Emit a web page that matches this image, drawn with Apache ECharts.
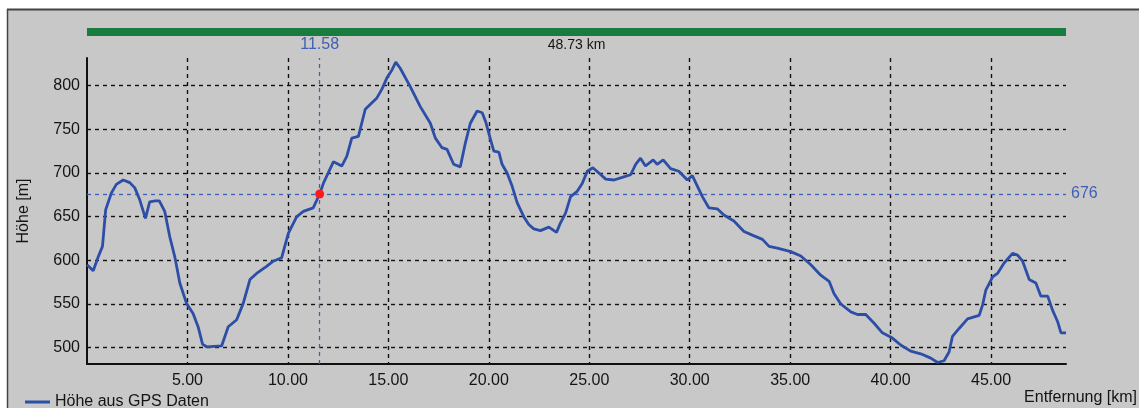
<!DOCTYPE html>
<html><head><meta charset="utf-8">
<script src="https://cdn.jsdelivr.net/npm/echarts@6/dist/echarts.min.js"></script>
<style>html,body{margin:0;padding:0;background:#fff}#c{width:1139px;height:408px}</style>
</head><body><div id="c"></div>
<script>
const distanceKm = [0,0.31,0.56,0.77,0.93,1.21,1.46,1.8,2.13,2.38,2.63,2.91,3.12,3.4,3.6,3.87,4.12,4.37,4.62,4.95,5.28,5.53,5.75,5.95,6.7,7.03,7.45,7.78,8.11,8.44,8.94,9.27,9.69,10.02,10.44,10.77,11.26,11.58,11.78,12.27,12.68,12.93,13.18,13.51,13.85,14.43,14.68,14.93,15.18,15.37,15.59,16.09,16.59,17.09,17.34,17.67,17.92,18.25,18.58,18.83,19.08,19.42,19.67,19.84,20.09,20.25,20.5,20.66,20.91,21.16,21.41,21.74,21.99,22.24,22.57,22.99,23.37,23.57,23.82,24.07,24.4,24.65,24.9,25.18,25.48,25.82,26.23,26.64,27.06,27.31,27.55,27.8,28.18,28.38,28.68,29.05,29.46,29.88,30.13,30.38,30.63,30.96,31.37,31.7,32.2,32.7,33.2,33.62,33.95,34.36,35.03,35.53,36.03,36.52,36.94,37.18,37.52,38.02,38.35,38.76,39.18,39.59,40.09,40.5,41.0,41.5,42.0,42.34,42.66,42.91,43.08,43.41,43.83,44.41,44.58,44.74,45.08,45.32,45.65,46.07,46.32,46.57,46.9,47.23,47.48,47.82,48.06,48.31,48.48,48.73];
const elevationM = [595,588,604,616,658,677,687,692,689,683,669,648,667,668,668,656,627,604,574,551,539,524,504,501,502,524,532,551,578,585,593,599,603,631,650,656,660,676,689,713,708,719,740,742,773,786,796,809,818,827,820,799,776,757,740,729,727,710,707,734,757,771,769,759,738,725,724,710,700,685,666,650,641,636,634,638,632,643,654,673,679,688,702,706,700,693,692,695,698,710,717,708,715,710,715,705,702,692,697,685,673,660,659,652,645,633,628,624,616,614,610,605,595,583,576,562,550,541,538,538,528,517,511,503,496,493,488,483,485,495,513,522,533,537,549,566,581,585,597,608,606,599,578,574,559,559,543,530,517,517];
const xTickValues = [5,10,15,20,25,30,35,40,45];
const yTickValues = [500,550,600,650,700,750,800];
const cursorKm = 11.58;
const cursorElev = 676;
const totalKm = 48.73;
const seriesName = 'Höhe aus GPS Daten';
const yAxisTitle = 'Höhe [m]';
const xAxisTitle = 'Entfernung [km]';
const yMin = 481.3, yMax = 831.7;

const FONT = 'Liberation Sans';
const TXT = '#141414';
const BLUE = '#2d4ea6';
const CROSS = '#3f5fb6';

const chart = echarts.init(document.getElementById('c'), null, {renderer:'canvas'});
const points = distanceKm.map((d,i)=>[d, elevationM[i]]);

chart.setOption({
  animation:false,
  backgroundColor:'#c8c8c8',
  grid:{left:87, top:58, width:979, height:306, containLabel:false},
  legend:{
    left:20, top:389, icon:'rect', itemWidth:25, itemHeight:3,
    textStyle:{fontFamily:FONT, fontSize:16, color:TXT},
    data:[seriesName]
  },
  xAxis:{
    type:'value', min:0, max:totalKm,
    axisLine:{show:true, onZero:false, lineStyle:{color:'#111', width:2}},
    axisTick:{show:false, customValues:xTickValues},
    axisLabel:{customValues:xTickValues, formatter:v=>v.toFixed(2), fontFamily:FONT, fontSize:16, color:TXT, margin:9},
    splitLine:{show:true, lineStyle:{color:'#111', type:[4,4], width:1.4}}
  },
  yAxis:{
    type:'value', min:yMin, max:yMax,
    name:yAxisTitle, nameLocation:'middle', nameGap:55,
    nameTextStyle:{fontFamily:FONT, fontSize:16, color:TXT},
    axisLine:{show:true, lineStyle:{color:'#111', width:2}},
    axisTick:{show:false, customValues:yTickValues},
    axisLabel:{customValues:yTickValues, formatter:v=>String(Math.round(v)), fontFamily:FONT, fontSize:16, color:TXT, margin:7},
    splitLine:{show:true, lineStyle:{color:'#111', type:[4,4], width:1.4}}
  },
  series:[{
    name:seriesName, type:'line', data:points, showSymbol:false, symbol:'none',
    lineStyle:{color:BLUE, width:2.8}, itemStyle:{color:BLUE},
    z:5,
    markLine:{
      symbol:'none', silent:true, animation:false, z:4,
      lineStyle:{color:CROSS, type:[4,4], width:1.3},
      data:[
        {xAxis:cursorKm, label:{formatter:cursorKm.toFixed(2), position:'end', color:CROSS, fontFamily:FONT, fontSize:16, distance:5}},
        {yAxis:cursorElev, label:{formatter:String(cursorElev), position:'end', color:CROSS, fontFamily:FONT, fontSize:16, distance:5}}
      ]
    },
    markPoint:{
      symbol:'circle', symbolSize:9, silent:true, animation:false, z:10,
      itemStyle:{color:'#ff1a1a'}, label:{show:false},
      data:[{coord:[cursorKm, cursorElev]}]
    }
  }]
});

const x0 = chart.convertToPixel({xAxisIndex:0}, 0);
const x1 = chart.convertToPixel({xAxisIndex:0}, totalKm);
chart.setOption({
  graphic:[
    {type:'rect', id:'topWhite', shape:{x:0,y:0,width:1139,height:9}, style:{fill:'#fff'}, silent:true},
    {type:'rect', id:'leftWhite', shape:{x:0,y:0,width:7,height:408}, style:{fill:'#fff'}, silent:true},
    {type:'line', id:'topBorder', shape:{x1:7,y1:9.5,x2:1139,y2:9.5}, style:{stroke:'#444', lineWidth:2}, silent:true},
    {type:'line', id:'leftBorder', shape:{x1:7.5,y1:9,x2:7.5,y2:408}, style:{stroke:'#444', lineWidth:1.5}, silent:true},
    {type:'rect', id:'greenBar', shape:{x:x0, y:28, width:x1-x0, height:8}, style:{fill:'#187c3e'}, silent:true},
    {type:'text', id:'totalTxt', style:{text:totalKm.toFixed(2)+' km', x:(x0+x1)/2, y:45, textAlign:'center', textVerticalAlign:'middle', font:'14px "Liberation Sans"', fill:TXT}, silent:true},
    {type:'text', id:'xName', style:{text:xAxisTitle, x:1137, y:398, textAlign:'right', textVerticalAlign:'middle', font:'16px "Liberation Sans"', fill:TXT}, silent:true}
  ]
});
</script>
</body></html>
